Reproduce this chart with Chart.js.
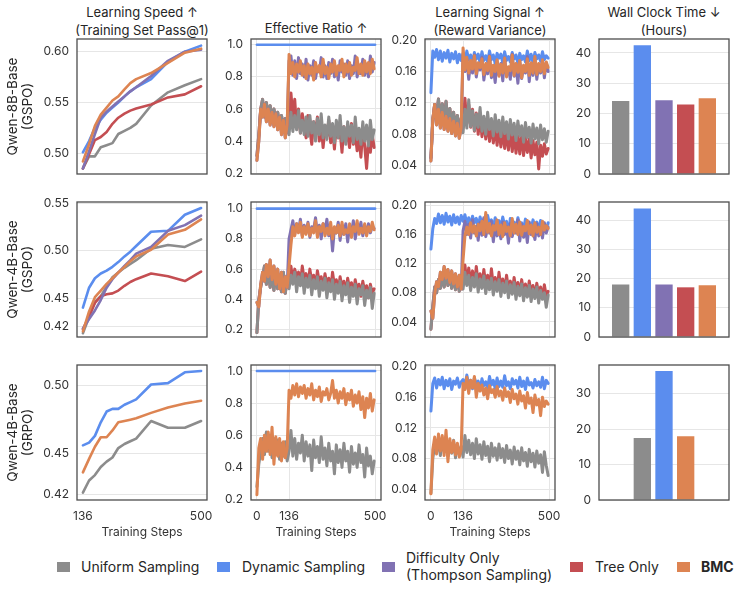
<!DOCTYPE html>
<html>
<head>
<meta charset="utf-8">
<script src="https://cdn.jsdelivr.net/npm/chart.js@4.4.1/dist/chart.umd.min.js"></script>
<style>
  html, body { margin: 0; background: #fff; overflow: hidden; }
  #fig { position: relative; width: 736px; height: 595px; overflow: hidden; font-family: Inter, "DejaVu Sans", sans-serif; }
  #fig canvas { position: absolute; }
  .ttl { position: absolute; width: 170px; text-align: center; font-size: 13px; line-height: 18px; color: #262626; white-space: nowrap; }
  .sq { position: absolute; top: 562px; width: 13px; height: 10px; }
  .lt { position: absolute; font-size: 14px; line-height: 16.5px; color: #262626; white-space: nowrap; }
</style>
</head>
<body>
<div id="fig">
  <div class="ttl" style="left:57px;top:3px">Learning Speed ↑<br>(Training Set Pass@1)</div>
  <div class="ttl" style="left:231px;top:19px">Effective Ratio ↑</div>
  <div class="ttl" style="left:405px;top:3px">Learning Signal ↑<br>(Reward Variance)</div>
  <div class="ttl" style="left:579px;top:3px">Wall Clock Time ↓<br>(Hours)</div>

  <div class="sq" style="left:57px;background:#8c8c8c"></div>
  <div class="lt" style="left:81px;top:559px">Uniform Sampling</div>
  <div class="sq" style="left:217px;background:#5b8dee"></div>
  <div class="lt" style="left:242px;top:559px">Dynamic Sampling</div>
  <div class="sq" style="left:382px;background:#8172b3"></div>
  <div class="lt" style="left:406px;top:550px">Difficulty Only<br>(Thompson Sampling)</div>
  <div class="sq" style="left:570px;background:#c44e52"></div>
  <div class="lt" style="left:595px;top:559px">Tree Only</div>
  <div class="sq" style="left:677px;background:#dd8452"></div>
  <div class="lt" style="left:701px;top:559px;font-weight:bold">BMC</div>
</div>
<script>
// evaluation checkpoints for the training-set pass@1 curves
const evalSteps = [136, 155, 173, 191, 209, 227, 245, 264, 282, 300, 346, 398, 450, 500];

// Qwen-8B-Base (GSPO)
const speed8Uniform = [0.485, 0.497, 0.497, 0.506, 0.508, 0.510, 0.519, 0.522, 0.525, 0.529, 0.547, 0.560, 0.567, 0.573];
const speed8Dynamic = [0.501, 0.512, 0.525, 0.533, 0.540, 0.545, 0.550, 0.556, 0.561, 0.565, 0.573, 0.590, 0.600, 0.606];
const speed8Difficulty = [0.485, 0.502, 0.519, 0.535, 0.541, 0.546, 0.551, 0.556, 0.561, 0.565, 0.576, 0.591, 0.600, 0.602];
const speed8Tree = [0.485, 0.499, 0.513, 0.516, 0.521, 0.529, 0.535, 0.539, 0.542, 0.544, 0.548, 0.555, 0.558, 0.566];
const speed8Bmc = [0.492, 0.509, 0.527, 0.538, 0.545, 0.552, 0.556, 0.563, 0.569, 0.573, 0.579, 0.589, 0.599, 0.603];

// Qwen-4B-Base (GSPO)
const speed4gUniform = [0.413, 0.430, 0.446, 0.452, 0.462, 0.472, 0.477, 0.482, 0.486, 0.490, 0.502, 0.506, 0.504, 0.512];
const speed4gDynamic = [0.440, 0.461, 0.471, 0.476, 0.479, 0.483, 0.488, 0.494, 0.499, 0.505, 0.520, 0.521, 0.538, 0.545];
const speed4gDifficulty = [0.418, 0.428, 0.437, 0.448, 0.461, 0.470, 0.477, 0.484, 0.490, 0.497, 0.504, 0.521, 0.527, 0.537];
const speed4gTree = [0.417, 0.431, 0.445, 0.452, 0.454, 0.455, 0.458, 0.463, 0.467, 0.470, 0.476, 0.473, 0.468, 0.478];
const speed4gBmc = [0.415, 0.436, 0.451, 0.458, 0.465, 0.471, 0.477, 0.483, 0.489, 0.494, 0.501, 0.517, 0.522, 0.533];

// Qwen-4B-Base (GRPO)
const speed4rUniform = [0.421, 0.430, 0.434, 0.440, 0.444, 0.447, 0.454, 0.457, 0.459, 0.461, 0.474, 0.469, 0.469, 0.474];
const speed4rDynamic = [0.456, 0.458, 0.463, 0.473, 0.481, 0.483, 0.483, 0.486, 0.488, 0.490, 0.501, 0.502, 0.510, 0.511];
const speed4rBmc = [0.436, 0.446, 0.455, 0.462, 0.462, 0.467, 0.473, 0.474, 0.475, 0.476, 0.480, 0.484, 0.487, 0.489];

// per-step metrics, logged every 8 steps from step 0; methods branch at step 136 (index 17)
const logSteps = Array.from({ length: 63 }, (_, i) => i * 8);
const branchAt = 17;
const dynRatioSteps = [0, 500];
const dynRatio = [1.0, 1.0];

// effective ratio, Qwen-8B-Base (GSPO)
const ratio8Uniform = [0.31, 0.44, 0.60, 0.66, 0.55, 0.64, 0.57, 0.62, 0.53, 0.60, 0.52, 0.58, 0.50, 0.56, 0.49, 0.54, 0.47,
  0.44, 0.58, 0.46, 0.56, 0.47, 0.59, 0.45, 0.53, 0.44, 0.55,
  0.43, 0.56, 0.45, 0.52, 0.40, 0.54, 0.44, 0.57, 0.42, 0.50,
  0.41, 0.55, 0.43, 0.51, 0.39, 0.53, 0.42, 0.56, 0.40, 0.49,
  0.38, 0.52, 0.43, 0.50, 0.39, 0.55, 0.41, 0.48, 0.38, 0.52,
  0.40, 0.50, 0.37, 0.53, 0.41, 0.47];
const ratio8Bmc = [0.28, 0.40, 0.60, 0.55, 0.63, 0.52, 0.60, 0.50, 0.58, 0.49, 0.57, 0.47, 0.55, 0.44, 0.53, 0.42, 0.50,
  0.94, 0.82, 0.89, 0.80, 0.88, 0.83, 0.90, 0.81, 0.87, 0.79, 0.88,
  0.82, 0.86, 0.78, 0.89, 0.83, 0.87, 0.80, 0.91, 0.82, 0.86,
  0.79, 0.88, 0.83, 0.90, 0.81, 0.87, 0.84, 0.91, 0.80, 0.88,
  0.83, 0.89, 0.81, 0.86, 0.84, 0.92, 0.82, 0.88, 0.81, 0.90,
  0.83, 0.89, 0.82, 0.91, 0.85];
const ratio8DifficultyAfter = [0.90,
  0.93, 0.81, 0.90, 0.79, 0.92, 0.82, 0.88, 0.80, 0.91, 0.78,
  0.87, 0.81, 0.90, 0.79, 0.86, 0.83, 0.92, 0.80, 0.87, 0.79,
  0.89, 0.82, 0.91, 0.80, 0.86, 0.78, 0.90, 0.83, 0.88, 0.81,
  0.90, 0.79, 0.87, 0.82, 0.93, 0.80, 0.86, 0.82, 0.91, 0.81,
  0.88, 0.80, 0.93, 0.83, 0.89];
const ratio8TreeAfter = [0.52,
  0.70, 0.55, 0.66, 0.48, 0.60, 0.45, 0.57, 0.50, 0.42, 0.56,
  0.47, 0.38, 0.52, 0.44, 0.55, 0.40, 0.50, 0.36, 0.48, 0.43,
  0.53, 0.39, 0.47, 0.35, 0.50, 0.42, 0.46, 0.33, 0.49, 0.40,
  0.44, 0.36, 0.51, 0.38, 0.45, 0.34, 0.42, 0.30, 0.47, 0.37,
  0.23, 0.40, 0.33, 0.44, 0.36];

// learning signal, Qwen-8B-Base (GSPO)
const signal8Dynamic = [0.133, 0.186, 0.178, 0.188, 0.175, 0.186, 0.173, 0.184, 0.177, 0.187, 0.172, 0.183, 0.176, 0.185, 0.171, 0.182, 0.174,
  0.183, 0.172, 0.186, 0.175, 0.181, 0.170, 0.184, 0.176, 0.182, 0.171,
  0.185, 0.174, 0.180, 0.172, 0.186, 0.175, 0.181, 0.170, 0.183, 0.177,
  0.182, 0.171, 0.185, 0.174, 0.179, 0.172, 0.184, 0.176, 0.181, 0.170,
  0.183, 0.175, 0.180, 0.172, 0.186, 0.174, 0.182, 0.171, 0.184, 0.176,
  0.181, 0.173, 0.185, 0.175, 0.180, 0.177];
const signal8Uniform = [0.050, 0.098, 0.118, 0.104, 0.125, 0.097, 0.119, 0.095, 0.122, 0.093, 0.113, 0.090, 0.108, 0.088, 0.104, 0.085, 0.100,
  0.082, 0.112, 0.088, 0.124, 0.090, 0.110, 0.085, 0.106, 0.089, 0.114,
  0.084, 0.103, 0.080, 0.108, 0.086, 0.100, 0.078, 0.105, 0.083, 0.098,
  0.077, 0.102, 0.081, 0.096, 0.074, 0.099, 0.079, 0.094, 0.072, 0.097,
  0.078, 0.091, 0.070, 0.095, 0.076, 0.089, 0.069, 0.093, 0.074, 0.088,
  0.068, 0.092, 0.073, 0.087, 0.070, 0.084];
const signal8Bmc = [0.046, 0.100, 0.118, 0.092, 0.112, 0.088, 0.108, 0.086, 0.103, 0.084, 0.100, 0.081, 0.097, 0.078, 0.094, 0.075, 0.088,
  0.190, 0.162, 0.178, 0.158, 0.174, 0.163, 0.180, 0.157, 0.171, 0.165,
  0.176, 0.156, 0.170, 0.161, 0.179, 0.155, 0.168, 0.160, 0.175, 0.154,
  0.169, 0.158, 0.177, 0.153, 0.166, 0.161, 0.181, 0.155, 0.170, 0.159,
  0.174, 0.152, 0.168, 0.160, 0.176, 0.155, 0.171, 0.158, 0.179, 0.156,
  0.170, 0.160, 0.175, 0.157, 0.172, 0.165];
const signal8DifficultyAfter = [0.182, 0.160, 0.176, 0.150, 0.172, 0.158, 0.181, 0.153, 0.169, 0.162,
  0.178, 0.149, 0.167, 0.157, 0.180, 0.152, 0.165, 0.146, 0.174, 0.155,
  0.170, 0.148, 0.177, 0.156, 0.163, 0.150, 0.182, 0.154, 0.168, 0.145,
  0.173, 0.151, 0.166, 0.158, 0.179, 0.147, 0.170, 0.155, 0.176, 0.150,
  0.168, 0.158, 0.174, 0.152, 0.171, 0.160];
const signal8TreeAfter = [0.098, 0.126, 0.094, 0.118, 0.089, 0.112, 0.084, 0.107, 0.080, 0.103,
  0.077, 0.099, 0.074, 0.096, 0.071, 0.094, 0.069, 0.090, 0.066, 0.088,
  0.064, 0.085, 0.062, 0.083, 0.060, 0.087, 0.058, 0.080, 0.056, 0.078,
  0.055, 0.081, 0.053, 0.076, 0.057, 0.074, 0.050, 0.072, 0.054, 0.070,
  0.036, 0.066, 0.052, 0.068, 0.055, 0.062];

// effective ratio, Qwen-4B-Base (GSPO)
const ratio4gUniform = [0.18, 0.40, 0.48, 0.55, 0.62, 0.50, 0.60, 0.48, 0.58, 0.46, 0.57, 0.47, 0.55, 0.45, 0.58, 0.44, 0.53,
  0.47, 0.56, 0.50, 0.58, 0.45, 0.55, 0.49, 0.57, 0.44, 0.54,
  0.48, 0.56, 0.43, 0.53, 0.47, 0.55, 0.42, 0.52, 0.46, 0.54,
  0.41, 0.51, 0.45, 0.53, 0.40, 0.50, 0.44, 0.52, 0.39, 0.49,
  0.43, 0.51, 0.38, 0.48, 0.42, 0.50, 0.37, 0.47, 0.43, 0.49,
  0.36, 0.46, 0.41, 0.48, 0.34, 0.44];
const ratio4gBmc = [0.38, 0.35, 0.50, 0.58, 0.52, 0.63, 0.55, 0.66, 0.53, 0.62, 0.50, 0.60, 0.47, 0.58, 0.45, 0.55, 0.48,
  0.62, 0.76, 0.88, 0.82, 0.90, 0.84, 0.91, 0.81, 0.88, 0.83,
  0.90, 0.82, 0.87, 0.84, 0.92, 0.81, 0.88, 0.85, 0.90, 0.82,
  0.87, 0.83, 0.91, 0.80, 0.88, 0.84, 0.89, 0.82, 0.91, 0.83,
  0.86, 0.84, 0.90, 0.81, 0.88, 0.85, 0.92, 0.83, 0.87, 0.84,
  0.90, 0.82, 0.88, 0.85, 0.91, 0.86];
const ratio4gDifficultyAfter = [0.80,
  0.86, 0.92, 0.83, 0.90, 0.85, 0.93, 0.82, 0.89, 0.84, 0.91,
  0.81, 0.88, 0.86, 0.94, 0.83, 0.89, 0.80, 0.90, 0.85, 0.93,
  0.82, 0.88, 0.72, 0.87, 0.84, 0.91, 0.79, 0.89, 0.83, 0.90,
  0.78, 0.88, 0.84, 0.92, 0.80, 0.87, 0.85, 0.91, 0.82, 0.89,
  0.83, 0.90, 0.84, 0.88, 0.87];
const ratio4gTreeAfter = [0.56, 0.62, 0.52, 0.60, 0.55, 0.58, 0.50, 0.62, 0.53, 0.57,
  0.49, 0.60, 0.52, 0.56, 0.48, 0.59, 0.51, 0.55, 0.47, 0.57,
  0.50, 0.54, 0.46, 0.58, 0.49, 0.53, 0.45, 0.55, 0.48, 0.52,
  0.44, 0.54, 0.47, 0.51, 0.43, 0.53, 0.46, 0.50, 0.42, 0.52,
  0.45, 0.49, 0.41, 0.50, 0.44, 0.47];

// learning signal, Qwen-4B-Base (GSPO)
const signal4gDynamic = [0.140, 0.168, 0.182, 0.175, 0.188, 0.176, 0.186, 0.174, 0.189, 0.177, 0.185, 0.173, 0.187, 0.176, 0.184, 0.174, 0.186,
  0.178, 0.187, 0.174, 0.183, 0.171, 0.185, 0.176, 0.182, 0.170, 0.184,
  0.175, 0.181, 0.169, 0.186, 0.174, 0.180, 0.168, 0.183, 0.173, 0.179,
  0.170, 0.184, 0.172, 0.178, 0.158, 0.182, 0.171, 0.177, 0.168, 0.183,
  0.172, 0.176, 0.166, 0.181, 0.170, 0.175, 0.167, 0.180, 0.171, 0.177,
  0.165, 0.179, 0.170, 0.174, 0.168, 0.176];
const signal4gUniform = [0.030, 0.062, 0.088, 0.080, 0.098, 0.086, 0.104, 0.088, 0.110, 0.090, 0.106, 0.086, 0.103, 0.084, 0.100, 0.082, 0.098,
  0.085, 0.108, 0.090, 0.104, 0.083, 0.101, 0.088, 0.106, 0.081, 0.099,
  0.086, 0.103, 0.079, 0.097, 0.084, 0.100, 0.077, 0.095, 0.082, 0.098,
  0.075, 0.093, 0.080, 0.096, 0.073, 0.091, 0.078, 0.094, 0.071, 0.089,
  0.076, 0.092, 0.069, 0.087, 0.074, 0.090, 0.068, 0.085, 0.072, 0.088,
  0.066, 0.083, 0.071, 0.080, 0.060, 0.077];
const signal4gBmc = [0.055, 0.045, 0.078, 0.095, 0.088, 0.108, 0.098, 0.116, 0.100, 0.112, 0.094, 0.110, 0.092, 0.106, 0.088, 0.104, 0.085,
  0.125, 0.158, 0.170, 0.160, 0.176, 0.163, 0.172, 0.158, 0.174, 0.165,
  0.178, 0.160, 0.190, 0.163, 0.175, 0.158, 0.172, 0.166, 0.180, 0.160,
  0.173, 0.157, 0.176, 0.164, 0.170, 0.158, 0.182, 0.162, 0.174, 0.160,
  0.177, 0.159, 0.171, 0.165, 0.179, 0.161, 0.173, 0.158, 0.176, 0.163,
  0.170, 0.160, 0.178, 0.166, 0.172, 0.168];
const signal4gDifficultyAfter = [0.165, 0.178, 0.160, 0.174, 0.155, 0.180, 0.162, 0.171, 0.152, 0.176,
  0.159, 0.183, 0.157, 0.170, 0.162, 0.178, 0.150, 0.173, 0.158, 0.168,
  0.154, 0.177, 0.160, 0.171, 0.148, 0.175, 0.157, 0.169, 0.162, 0.180,
  0.151, 0.174, 0.156, 0.170, 0.149, 0.177, 0.160, 0.166, 0.153, 0.175,
  0.158, 0.170, 0.155, 0.176, 0.162, 0.170];
const signal4gTreeAfter = [0.098, 0.118, 0.092, 0.114, 0.095, 0.110, 0.089, 0.116, 0.093, 0.106,
  0.088, 0.112, 0.090, 0.104, 0.086, 0.113, 0.089, 0.101, 0.084, 0.108,
  0.087, 0.099, 0.082, 0.104, 0.085, 0.096, 0.080, 0.101, 0.083, 0.094,
  0.078, 0.098, 0.081, 0.092, 0.076, 0.096, 0.079, 0.090, 0.074, 0.093,
  0.077, 0.088, 0.072, 0.091, 0.075, 0.082];

// effective ratio, Qwen-4B-Base (GRPO)
const ratio4rUniform = [0.28, 0.42, 0.50, 0.58, 0.48, 0.62, 0.50, 0.60, 0.46, 0.58, 0.48, 0.57, 0.45, 0.55, 0.47, 0.56, 0.44,
  0.50, 0.63, 0.47, 0.58, 0.45, 0.55, 0.49, 0.60, 0.44, 0.56,
  0.47, 0.54, 0.38, 0.57, 0.46, 0.53, 0.43, 0.59, 0.45, 0.52,
  0.41, 0.55, 0.44, 0.50, 0.36, 0.54, 0.43, 0.51, 0.40, 0.55,
  0.44, 0.50, 0.37, 0.53, 0.42, 0.49, 0.40, 0.54, 0.43, 0.48,
  0.34, 0.52, 0.41, 0.47, 0.36, 0.44];
const ratio4rBmc = [0.23, 0.52, 0.58, 0.45, 0.60, 0.50, 0.62, 0.48, 0.65, 0.42, 0.59, 0.47, 0.58, 0.44, 0.56, 0.46, 0.52,
  0.88, 0.83, 0.91, 0.85, 0.92, 0.84, 0.90, 0.86, 0.91, 0.83,
  0.89, 0.85, 0.92, 0.82, 0.88, 0.84, 0.90, 0.81, 0.87, 0.85,
  0.89, 0.82, 0.86, 0.94, 0.83, 0.88, 0.80, 0.87, 0.83, 0.89,
  0.79, 0.86, 0.82, 0.88, 0.78, 0.85, 0.80, 0.87, 0.76, 0.84,
  0.71, 0.83, 0.77, 0.86, 0.75, 0.82];

// learning signal, Qwen-4B-Base (GRPO)
const signal4rDynamic = [0.142, 0.178, 0.185, 0.172, 0.183, 0.176, 0.186, 0.171, 0.182, 0.175, 0.184, 0.170, 0.181, 0.177, 0.185, 0.173, 0.180,
  0.183, 0.174, 0.189, 0.176, 0.182, 0.171, 0.185, 0.177, 0.181, 0.170,
  0.184, 0.175, 0.180, 0.172, 0.187, 0.176, 0.182, 0.171, 0.185, 0.174,
  0.181, 0.173, 0.188, 0.175, 0.180, 0.171, 0.184, 0.177, 0.182, 0.172,
  0.186, 0.174, 0.181, 0.170, 0.185, 0.176, 0.179, 0.172, 0.183, 0.175,
  0.180, 0.173, 0.186, 0.171, 0.182, 0.178];
const signal4rUniform = [0.035, 0.080, 0.098, 0.088, 0.105, 0.084, 0.102, 0.090, 0.108, 0.083, 0.100, 0.087, 0.104, 0.081, 0.098, 0.085, 0.096,
  0.082, 0.110, 0.088, 0.104, 0.085, 0.100, 0.080, 0.106, 0.086, 0.098,
  0.079, 0.102, 0.084, 0.096, 0.076, 0.100, 0.083, 0.094, 0.078, 0.099,
  0.081, 0.093, 0.075, 0.097, 0.080, 0.091, 0.073, 0.095, 0.079, 0.090,
  0.072, 0.094, 0.077, 0.088, 0.070, 0.092, 0.076, 0.087, 0.069, 0.090,
  0.074, 0.085, 0.062, 0.089, 0.071, 0.058];
const signal4rBmc = [0.034, 0.092, 0.108, 0.086, 0.112, 0.090, 0.110, 0.084, 0.117, 0.076, 0.106, 0.088, 0.103, 0.085, 0.100, 0.082, 0.092,
  0.178, 0.170, 0.186, 0.165, 0.182, 0.172, 0.187, 0.160, 0.178, 0.168,
  0.176, 0.163, 0.172, 0.158, 0.175, 0.166, 0.170, 0.160, 0.174, 0.162,
  0.168, 0.156, 0.172, 0.161, 0.167, 0.153, 0.170, 0.158, 0.164, 0.151,
  0.168, 0.155, 0.162, 0.146, 0.166, 0.152, 0.159, 0.140, 0.163, 0.150,
  0.157, 0.136, 0.160, 0.148, 0.155, 0.151];

// wall clock time in hours (bar slots: uniform, dynamic, difficulty, tree, bmc)
const wallSlots = [0, 1, 2, 3, 4];
const wall8 = [24.1, 42.5, 24.4, 23.0, 25.0];
const wall4g = [18.0, 44.0, 18.0, 17.0, 17.7];
const wall4rSlots = [1, 2, 3];
const wall4r = [17.5, 36.4, 18.0];

const colUniform = '#8c8c8c', colDynamic = '#5b8dee', colDifficulty = '#8172b3', colTree = '#c44e52', colBmc = '#dd8452';
const INK = '#333333', GRID = '#e6e6e6';

Chart.defaults.font.family = 'Inter, "DejaVu Sans", sans-serif';

const fig = document.getElementById('fig');
const plotLeft = [77, 251, 425, 599];
const plotTop = [39, 202, 365];
const PW = 130, PH = 135, PT = 8, PR = 8;

const boxPlugin = {
  id: 'box',
  afterDatasetsDraw(chart) {
    const { ctx, chartArea: a } = chart;
    ctx.save();
    ctx.strokeStyle = '#4d4d4d';
    ctx.lineWidth = 1.3;
    ctx.strokeRect(a.left, a.top, a.right - a.left, a.bottom - a.top);
    ctx.restore();
  }
};

const pts = (xs, ys) => ys.map((y, i) => ({ x: xs[i], y }));
const branch = (warm, after) => warm.slice(0, branchAt).concat(after);

function line(label, color, xs, ys, order, width) {
  return { label, data: pts(xs, ys), borderColor: color, backgroundColor: color,
    borderWidth: width, order, pointRadius: 0, fill: false };
}

function panel(col, row, type, datasets, o) {
  const axisW = col === 0 ? 77 : 45;
  const xH = o.xLabels ? 40 : 0;
  const cv = document.createElement('canvas');
  cv.width = axisW + PW + PR;
  cv.height = PT + PH + xH + 4;
  cv.style.left = (plotLeft[col] - axisW) + 'px';
  cv.style.top = (plotTop[row] - PT) + 'px';
  fig.appendChild(cv);
  new Chart(cv, {
    type,
    data: { datasets },
    plugins: [boxPlugin],
    options: {
      responsive: false,
      animation: false,
      layout: { padding: { top: PT, right: PR, bottom: 4, left: 0 } },
      plugins: { legend: { display: false }, tooltip: { enabled: false } },
      elements: { line: { tension: 0, borderJoinStyle: 'round', borderCapStyle: 'round' } },
      scales: {
        x: {
          type: 'linear', min: o.xMin, max: o.xMax,
          afterBuildTicks: s => { s.ticks = o.xTicks.map(v => ({ value: v })); },
          afterFit: s => { s.height = xH; s.paddingLeft = 0; s.paddingRight = 0; },
          grid: { display: !!o.xGrid, color: GRID, lineWidth: 1, drawTicks: false },
          border: { display: false },
          ticks: { display: !!o.xLabels, padding: 9, autoSkip: false, maxRotation: 0, color: INK, font: { size: 12 } },
          title: { display: !!o.xLabels, text: 'Training Steps', color: INK,
            font: { size: 12 }, padding: { top: 0, bottom: 0 } }
        },
        y: {
          min: o.yMin, max: o.yMax,
          afterBuildTicks: s => { s.ticks = o.yTicks.map(v => ({ value: v })); },
          afterFit: s => { s.width = axisW; s.paddingTop = 0; s.paddingBottom = 0; },
          grid: { color: GRID, lineWidth: 1, drawTicks: false },
          border: { display: false },
          ticks: { padding: 8, autoSkip: false, color: INK, font: { size: 12 }, callback: v => v.toFixed(o.dec) },
          title: { display: !!o.rowLabel, text: o.rowLabel, color: '#262626',
            font: { size: 13.5, lineHeight: 1.1 }, padding: { top: 6, bottom: 0 } }
        }
      }
    }
  });
}

// column 1: learning speed
const speedX = { xMin: 117.8, xMax: 518.2, xTicks: [136, 500], dec: 2 };
function speedPanel(row, series, label, yMin, yMax, yTicks, xLabels) {
  const order = { uniform: 4, dynamic: 2, difficulty: 1, tree: 3, bmc: 0 };
  const colors = { uniform: colUniform, dynamic: colDynamic, difficulty: colDifficulty, tree: colTree, bmc: colBmc };
  const ds = Object.keys(series).map(k => line(k, colors[k], evalSteps, series[k], order[k], 2.6));
  panel(0, row, 'line', ds, Object.assign({}, speedX, { yMin, yMax, yTicks, rowLabel: label, xLabels }));
}
speedPanel(0, { uniform: speed8Uniform, dynamic: speed8Dynamic, difficulty: speed8Difficulty, tree: speed8Tree, bmc: speed8Bmc },
  ['Qwen-8B-Base', '(GSPO)'], 0.4796, 0.6125, [0.50, 0.55, 0.60], false);
speedPanel(1, { uniform: speed4gUniform, dynamic: speed4gDynamic, difficulty: speed4gDifficulty, tree: speed4gTree, bmc: speed4gBmc },
  ['Qwen-4B-Base', '(GSPO)'], 0.409, 0.5514, [0.42, 0.45, 0.50, 0.55], false);
speedPanel(2, { uniform: speed4rUniform, dynamic: speed4rDynamic, bmc: speed4rBmc },
  ['Qwen-4B-Base', '(GRPO)'], 0.4156, 0.5154, [0.42, 0.45, 0.50], true);

// columns 2 and 3: effective ratio and learning signal
const stepX = { xMin: -25, xMax: 525, xTicks: [0, 136, 500], xGrid: true };
const LW = 3.0;
function metricPanel(col, row, sets, dynamic, yMin, yMax, yTicks, dec, xLabels) {
  const ds = [];
  if (sets.tree) ds.push(line('tree', colTree, logSteps, sets.tree, 4, LW));
  ds.push(line('uniform', colUniform, logSteps, sets.uniform, 3, LW));
  if (sets.difficulty) ds.push(line('difficulty', colDifficulty, logSteps, sets.difficulty, 2, LW));
  ds.push(line('bmc', colBmc, logSteps, sets.bmc, 1, LW));
  ds.push(dynamic);
  panel(col, row, 'line', ds, Object.assign({}, stepX, { yMin, yMax, yTicks, dec, xLabels }));
}
const ratioTicks = [0.2, 0.4, 0.6, 0.8, 1.0];
const signalTicks = [0.04, 0.08, 0.12, 0.16, 0.20];

metricPanel(1, 0, { uniform: ratio8Uniform, bmc: ratio8Bmc,
  difficulty: branch(ratio8Bmc, ratio8DifficultyAfter), tree: branch(ratio8Uniform, ratio8TreeAfter) },
  line('dynamic', colDynamic, dynRatioSteps, dynRatio, 0, 2.6), 0.195, 1.036, ratioTicks, 1, false);
metricPanel(2, 0, { uniform: signal8Uniform, bmc: signal8Bmc,
  difficulty: branch(signal8Bmc, signal8DifficultyAfter), tree: branch(signal8Uniform, signal8TreeAfter) },
  line('dynamic', colDynamic, logSteps, signal8Dynamic, 2.5, LW), 0.0295, 0.2013, signalTicks, 2, false);

metricPanel(1, 1, { uniform: ratio4gUniform, bmc: ratio4gBmc,
  difficulty: branch(ratio4gBmc, ratio4gDifficultyAfter), tree: branch(ratio4gUniform, ratio4gTreeAfter) },
  line('dynamic', colDynamic, dynRatioSteps, dynRatio, 0, 2.6), 0.151, 1.044, ratioTicks, 1, false);
metricPanel(2, 1, { uniform: signal4gUniform, bmc: signal4gBmc,
  difficulty: branch(signal4gBmc, signal4gDifficultyAfter), tree: branch(signal4gUniform, signal4gTreeAfter) },
  line('dynamic', colDynamic, logSteps, signal4gDynamic, 2.5, LW), 0.0193, 0.2045, signalTicks, 2, false);

metricPanel(1, 2, { uniform: ratio4rUniform, bmc: ratio4rBmc },
  line('dynamic', colDynamic, dynRatioSteps, dynRatio, 0, 2.6), 0.197, 1.037, ratioTicks, 1, true);
metricPanel(2, 2, { uniform: signal4rUniform, bmc: signal4rBmc },
  line('dynamic', colDynamic, logSteps, signal4rDynamic, 2.5, LW), 0.026, 0.202, signalTicks, 2, true);

// column 4: wall clock time
function wallPanel(row, slots, hours, colors, yMax, yTicks) {
  const ds = [{ data: pts(slots, hours), backgroundColor: colors, borderWidth: 0,
    barPercentage: 0.8, categoryPercentage: 1 }];
  panel(3, row, 'bar', ds, { xMin: -1, xMax: 5, xTicks: [], yMin: 0, yMax, yTicks, dec: 0 });
}
const allColors = [colUniform, colDynamic, colDifficulty, colTree, colBmc];
wallPanel(0, wallSlots, wall8, allColors, 44.6, [0, 10, 20, 30, 40]);
wallPanel(1, wallSlots, wall4g, allColors, 46.2, [0, 10, 20, 30, 40]);
wallPanel(2, wall4rSlots, wall4r, [colUniform, colDynamic, colBmc], 38.1, [0, 10, 20, 30]);
</script>
</body>
</html>
